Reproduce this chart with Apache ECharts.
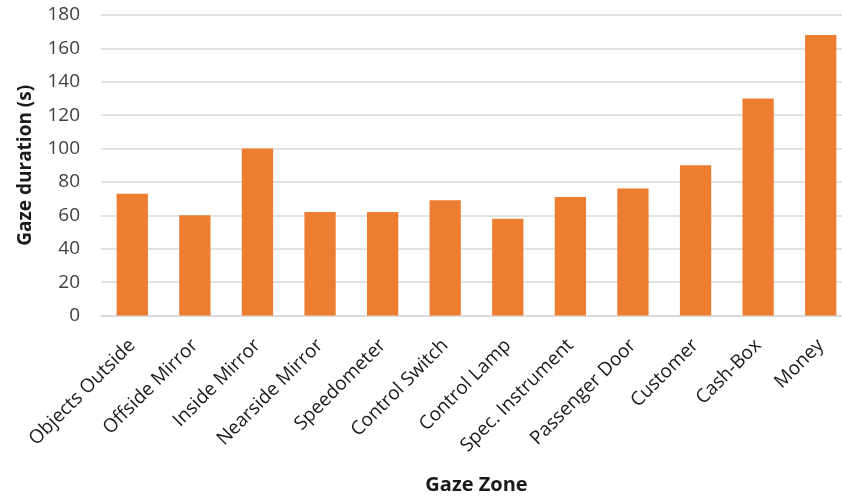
<!DOCTYPE html>
<html>
<head>
<meta charset="utf-8">
<script src="https://cdn.jsdelivr.net/npm/echarts@6/dist/echarts.min.js"></script>
<style>
  html, body { margin: 0; padding: 0; background: #fff; overflow: hidden; }
  /* the plot runs slightly past the right edge of the window */
  #chart { width: 852px; height: 496px; }
</style>
</head>
<body>
<div id="chart"></div>
<script>
// Gaze zones on the category axis
const zones = [
  'Objects Outside', 'Offside Mirror', 'Inside Mirror', 'Nearside Mirror',
  'Speedometer', 'Control Switch', 'Control Lamp', 'Spec. Instrument',
  'Passenger Door', 'Customer', 'Cash-Box', 'Money'
];
// Total gaze duration per zone, seconds
const durations = [73, 60, 100, 62, 62, 69, 58, 71, 76, 90, 130, 168];
// Value axis range and step
const yMin = 0;
const yMax = 180;
const yStep = 20;

const FONT = '"Open Sans", "Liberation Sans", sans-serif';

const chart = echarts.init(document.getElementById('chart'), null, { renderer: 'canvas' });
chart.setOption({
  animation: false,
  backgroundColor: '#ffffff',
  grid: {
    left: 101, top: 15, bottom: 180.5, right: 0,
    containLabel: false, outerBoundsMode: 'none'
  },
  xAxis: {
    type: 'category',
    data: zones,
    name: 'Gaze Zone',
    nameLocation: 'middle',
    nameGap: 160,
    nameTextStyle: { fontFamily: FONT, fontSize: 20, fontWeight: 'bold', color: '#1a1a1a' },
    axisLine: { show: true, lineStyle: { color: '#d9d9d9', width: 1.5 } },
    axisTick: { show: false },
    axisLabel: {
      interval: 0, rotate: 45, margin: 27,
      fontFamily: FONT, fontSize: 19, color: '#1a1a1a'
    }
  },
  yAxis: {
    type: 'value',
    min: yMin, max: yMax, interval: yStep,
    name: 'Gaze duration (s)',
    nameLocation: 'middle',
    nameGap: 66,
    nameTextStyle: { fontFamily: FONT, fontSize: 19, fontWeight: 'bold', color: '#1a1a1a' },
    axisLine: { show: false },
    axisTick: { show: false },
    splitLine: { lineStyle: { color: '#d9d9d9', width: 1.5 } },
    axisLabel: { margin: 21, fontFamily: FONT, fontSize: 19, color: '#404040' }
  },
  series: [{
    type: 'bar',
    data: durations,
    barWidth: '50%',
    itemStyle: { color: '#ed7d31' }
  }]
});
</script>
</body>
</html>
